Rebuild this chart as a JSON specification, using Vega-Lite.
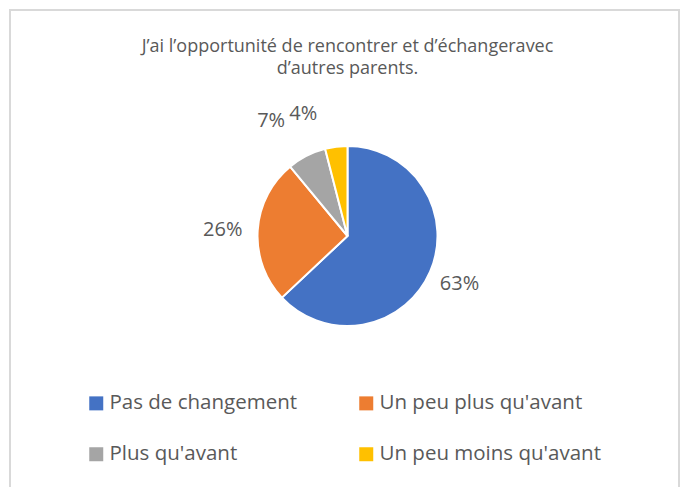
{
  "$schema": "https://vega.github.io/schema/vega-lite/v6.json",
  "width": 669,
  "height": 478,
  "autosize": {"type": "none"},
  "padding": {"left": 10, "top": 10, "right": 7, "bottom": 0},
  "background": "white",
  "config": {
    "view": {"stroke": "#d9d9d9", "strokeWidth": 2},
    "style": {"view": {"stroke": "#d9d9d9", "strokeWidth": 2}},
    "font": "Open Sans"
  },
  "title": {
    "text": ["J’ai l’opportunité de rencontrer et d’échangeravec", "d’autres parents."],
    "orient": "top",
    "anchor": "middle",
    "offset": -68,
    "fontSize": 18,
    "font": "Open Sans",
    "fontWeight": "normal",
    "color": "#595959",
    "lineHeight": 22,
    "dx": 3
  },
  "data": {
    "values": [
      {"cat": "Pas de changement", "value": 63, "label": "63%"},
      {"cat": "Un peu plus qu'avant", "value": 26, "label": "26%"},
      {"cat": "Plus qu'avant", "value": 7, "label": "7%"},
      {"cat": "Un peu moins qu'avant", "value": 4, "label": "4%"}
    ]
  },
  "encoding": {
    "theta": {"field": "value", "type": "quantitative", "stack": true},
    "order": {"field": "value", "type": "quantitative", "sort": "descending"}
  },
  "layer": [
    {
      "mark": {"type": "arc", "outerRadius": 90, "stroke": "white", "strokeWidth": 2, "xOffset": 3, "yOffset": -13},
      "encoding": {
        "color": {
          "field": "cat",
          "type": "nominal",
          "scale": {
            "domain": ["Pas de changement", "Un peu plus qu'avant", "Plus qu'avant", "Un peu moins qu'avant"],
            "range": ["#4472C4", "#ED7D31", "#A5A5A5", "#FFC000"]
          },
          "legend": {
            "title": null,
            "orient": "none",
            "legendX": 76,
            "legendY": 383,
            "columns": 2,
            "direction": "horizontal",
            "padding": 0,
            "symbolType": "square",
            "symbolSize": 196,
            "symbolStrokeWidth": 0,
            "labelFont": "Open Sans",
            "labelFontSize": 20.5,
            "labelColor": "#595959",
            "labelOffset": 3,
            "labelLimit": 400,
            "columnPadding": 58,
            "rowPadding": 30
          }
        }
      }
    },
    {
      "mark": {
        "type": "text",
        "radius": 122,
        "fontSize": 20,
        "font": "Open Sans",
        "xOffset": 3,
        "yOffset": -13,
        "dx": {"expr": "datum.label == '7%' ? -21 : datum.label == '4%' ? -29 : datum.label == '26%' ? -3 : 0"},
        "dy": {"expr": "datum.label == '7%' ? -6 : datum.label == '4%' ? -1 : datum.label == '26%' ? 2 : 0"}
      },
      "encoding": {
        "text": {"field": "label", "type": "nominal"},
        "color": {"value": "#595959"}
      }
    }
  ]
}
